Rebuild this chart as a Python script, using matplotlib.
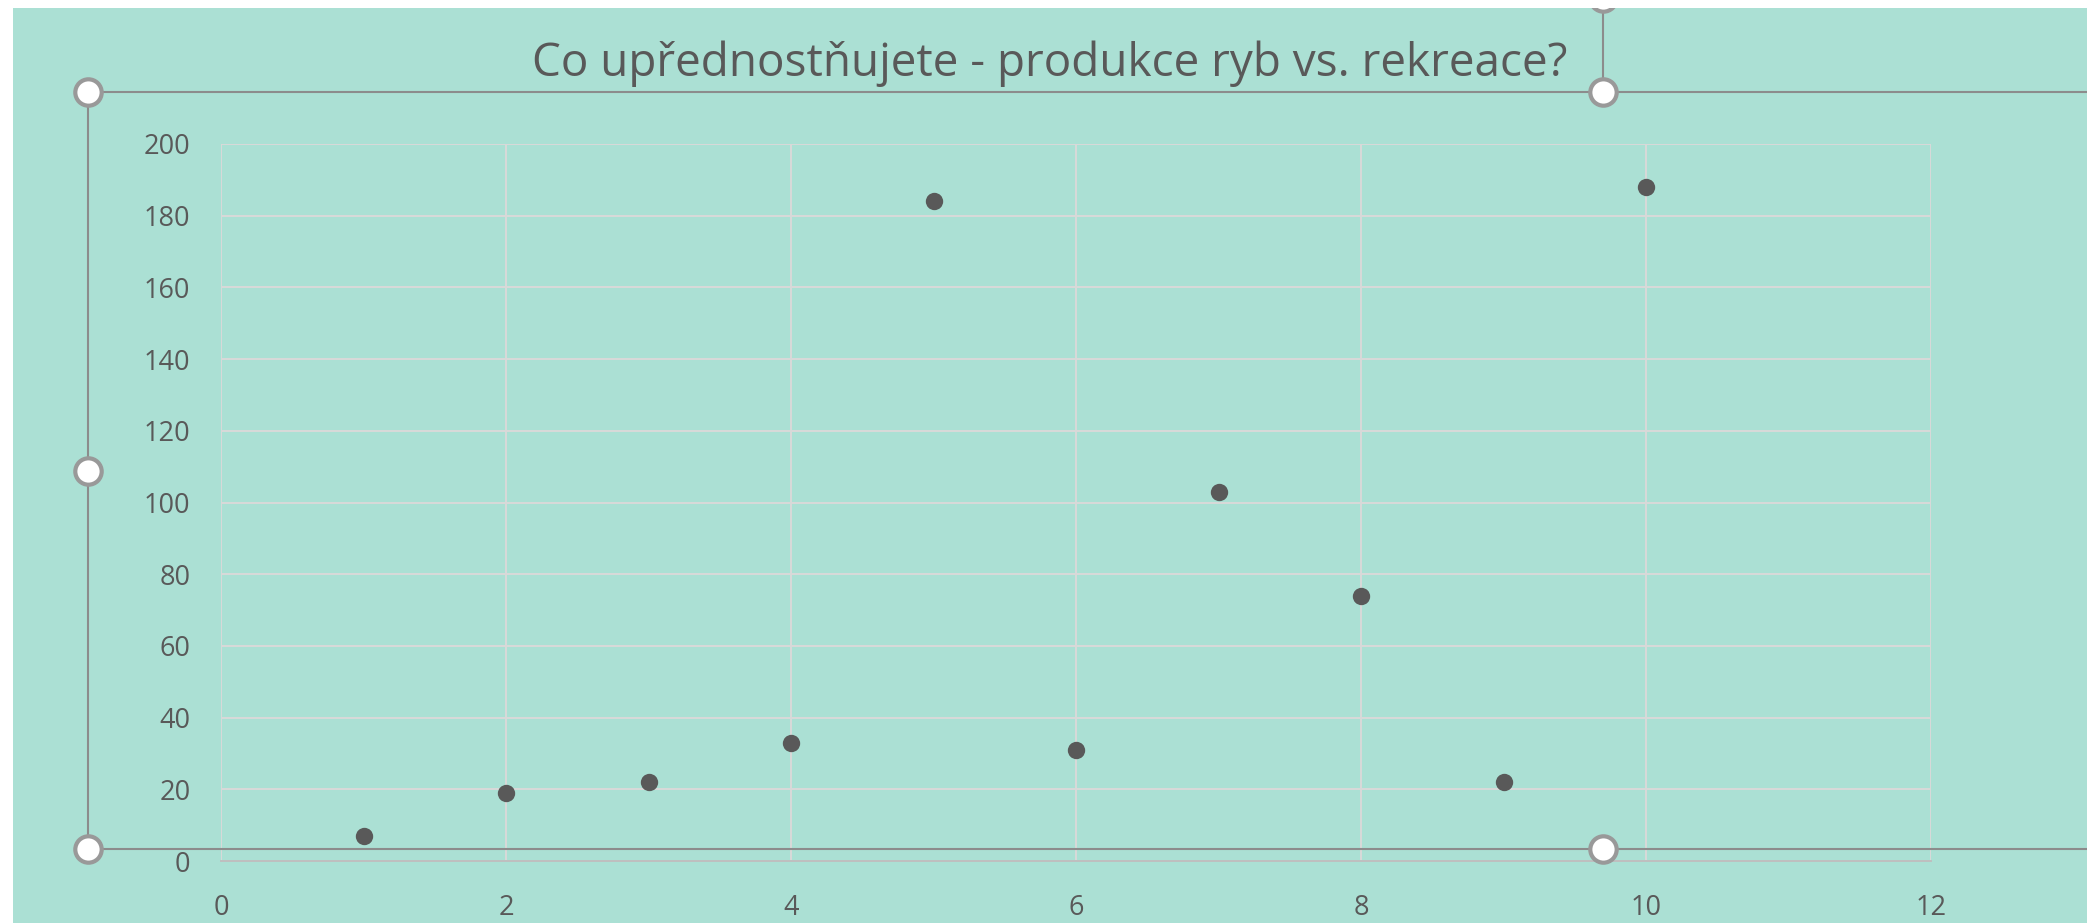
import matplotlib
matplotlib.use('Agg')
import matplotlib.pyplot as plt
from matplotlib.patches import Rectangle
from matplotlib.lines import Line2D

plt.rcParams['font.family'] = ['Open Sans', 'DejaVu Sans']

# data
x_vals = [1, 2, 3, 4, 5, 6, 7, 8, 9, 10]
y_vals = [7, 19, 22, 33, 184, 31, 103, 74, 22, 188]
x_ticks = [0, 2, 4, 6, 8, 10, 12]
y_ticks = [0, 20, 40, 60, 80, 100, 120, 140, 160, 180, 200]
title = 'Co upřednostňujete - produkce ryb vs. rekreace?'

W, H = 2087, 923
BG = '#ABE0D4'
TXT = '#595959'
GRID = '#D9D9D9'


def fx(px):
  return px / W


def fy(py):
  return 1 - py / H


fig = plt.figure(figsize=(W / 100, H / 100), dpi=100)
fig.patch.set_facecolor('white')
# chart area (screenshot has a thin white margin top/left)
fig.patches.append(Rectangle((fx(13), 0), 1 - fx(13), fy(8), transform=fig.transFigure,
                             facecolor=BG, edgecolor='none', zorder=-5))

ax = fig.add_axes([fx(221), fy(861), fx(1931) - fx(221), fy(144) - fy(861)])
ax.patch.set_alpha(0)

ax.plot(x_vals, y_vals, 'o', color=TXT, markersize=12.5, markeredgewidth=0, zorder=3)

ax.set_xlim(0, 12)
ax.set_ylim(0, 200)
ax.set_xticks(x_ticks)
ax.set_yticks(y_ticks)
ax.grid(True, color=GRID, linewidth=1.4)
ax.set_axisbelow(True)
for s in ['top', 'right', 'left']:
  ax.spines[s].set_visible(False)
ax.spines['bottom'].set_color('#BFBFBF')
ax.spines['bottom'].set_linewidth(1.4)
ax.tick_params(length=0, labelsize=19.5, labelcolor=TXT)
ax.tick_params(axis='x', pad=24)
ax.tick_params(axis='y', pad=22)

fig.text(fx(1050), fy(64), title, ha='center', va='center', fontsize=33, color=TXT)

# selection frame + handles from the screenshot
LC = '#8C8C8C'
for (x0, y0, x1, y1) in [(88, 92, W, 92), (88, 849, W, 849), (88, 92, 88, 849), (1603, 0, 1603, 92)]:
  fig.lines.append(Line2D([fx(x0), fx(x1)], [fy(y0), fy(y1)], transform=fig.transFigure,
                          color=LC, linewidth=1.5, zorder=5))
for (hx, hy) in [(1603, -2), (88, 92), (1603, 92), (88, 471), (88, 849), (1603, 849)]:
  fig.lines.append(Line2D([fx(hx)], [fy(hy)], transform=fig.transFigure, marker='o',
                          markersize=19, markerfacecolor='white', markeredgecolor='#999999',
                          markeredgewidth=3, zorder=6))
fig.patches.append(Rectangle((0, fy(8)), 1, 1 - fy(8), transform=fig.transFigure,
                             facecolor='white', edgecolor='none', zorder=7))

fig.savefig('out.png', dpi=100)
